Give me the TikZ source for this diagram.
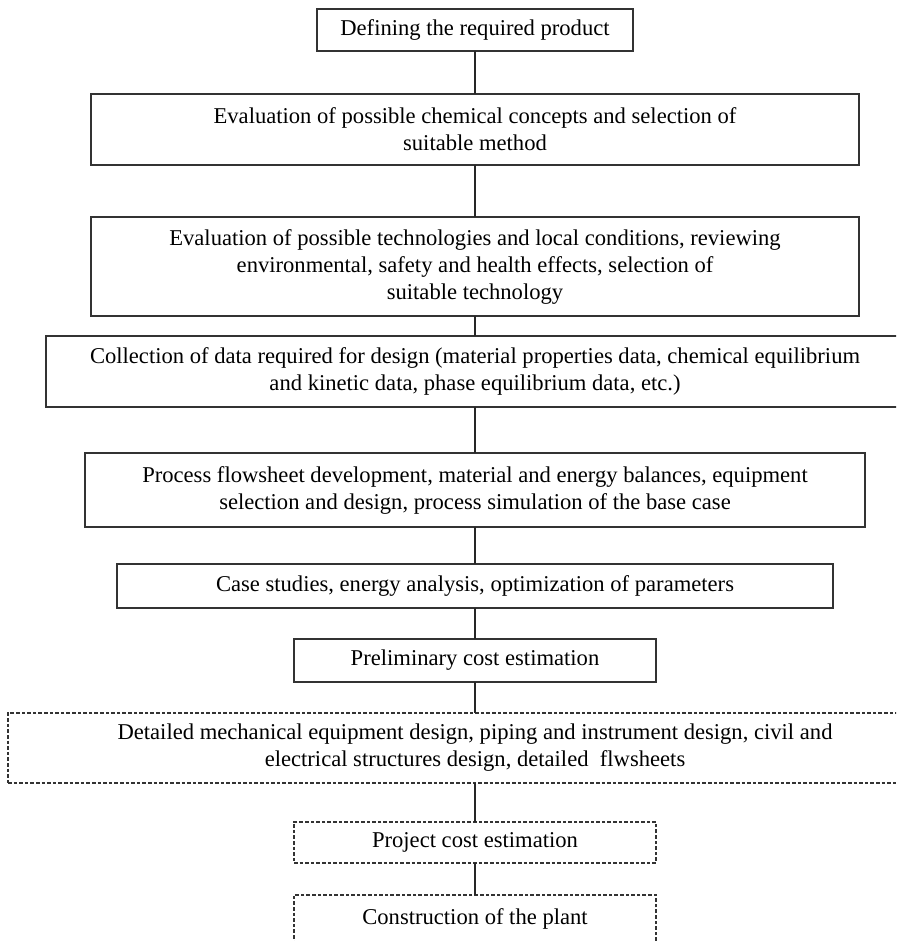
\documentclass[tikz,border=0pt]{standalone}
\usepackage{fontspec}
\setmainfont{Liberation Serif}
\usetikzlibrary{positioning}

\begin{document}
\begin{tikzpicture}[
  font=\fontsize{11.3}{13.5}\selectfont,
  box/.style={draw=black!80, line width=0.6pt, align=center, inner sep=2pt, outer sep=0pt},
  dbox/.style={box, dash pattern=on 1.8pt off 1pt},
  link/.style={draw=black!85, line width=0.6pt}
]
\clip (0,0) rectangle (448pt,-470.5pt);
\node[box, anchor=north, minimum width=158pt, minimum height=21pt] (prod) at (237.5pt,-4.5pt) {Defining the required product};
\node[box, below=21.5pt of prod, minimum width=384pt, minimum height=35.5pt] (chem) {Evaluation of possible chemical concepts and selection of\\ suitable method};
\node[box, below=26pt of chem, minimum width=384pt, minimum height=49.5pt] (tech) {Evaluation of possible technologies and local conditions, reviewing\\ environmental, safety and health effects, selection of\\ suitable technology};
\node[box, below=10pt of tech, minimum width=429pt, minimum height=35.5pt] (data) {Collection of data required for design (material properties data, chemical equilibrium\\ and kinetic data, phase equilibrium data, etc.)};
\node[box, below=23pt of data, minimum width=390pt, minimum height=37pt] (flow) {Process flowsheet development, material and energy balances, equipment\\ selection and design, process simulation of the base case};
\node[box, below=18.5pt of flow, minimum width=358pt, minimum height=22pt] (opt) {Case studies, energy analysis, optimization of parameters};
\node[box, below=15.5pt of opt, minimum width=181pt, minimum height=21.5pt] (prelim) {Preliminary cost estimation};
\node[dbox, below=15.5pt of prelim, minimum width=467pt, minimum height=35pt] (detail) {Detailed mechanical equipment design, piping and instrument design, civil and\\ electrical structures design, detailed~ flwsheets};
\node[dbox, below=19.5pt of detail, minimum width=181pt, minimum height=20.5pt] (proj) {Project cost estimation};
\node[dbox, below=16pt of proj, minimum width=181pt, minimum height=24pt] (plant) {Construction of the plant};
% connectors
\draw[link] (prod) -- (chem);
\draw[link] (chem) -- (tech);
\draw[link] (tech) -- (data);
\draw[link] (data) -- (flow);
\draw[link] (flow) -- (opt);
\draw[link] (opt) -- (prelim);
\draw[link] (prelim) -- (detail);
\draw[link] (detail) -- (proj);
\draw[link] (proj) -- (plant);
\end{tikzpicture}
\end{document}
